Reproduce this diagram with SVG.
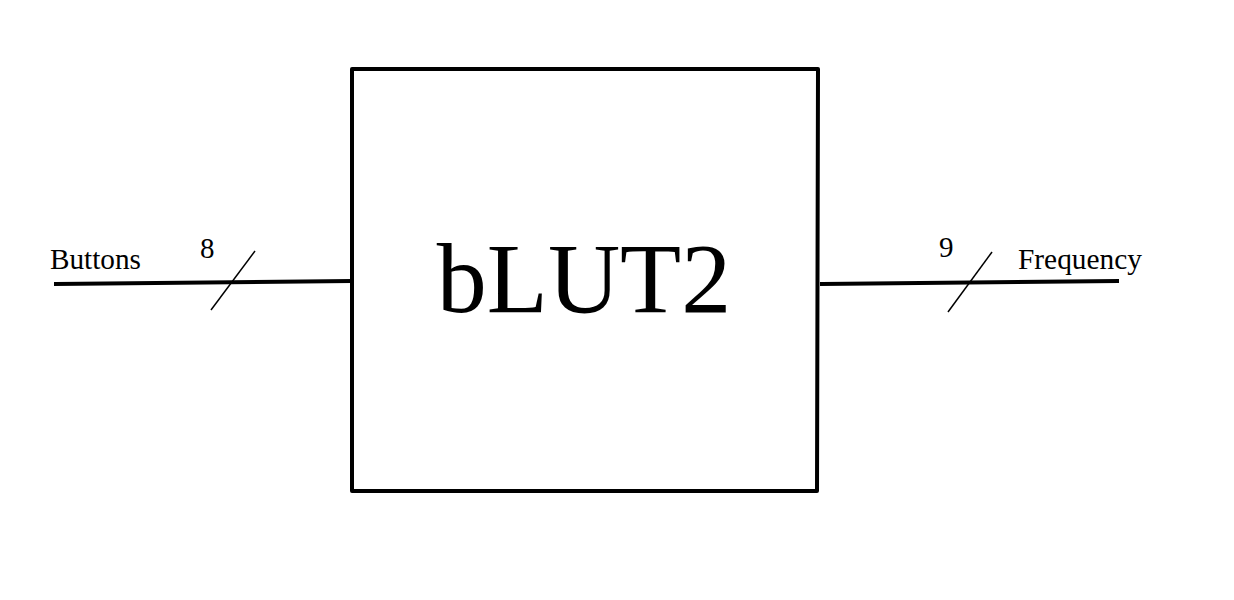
<svg xmlns="http://www.w3.org/2000/svg" width="1234" height="600" viewBox="0 0 1234 600">
<style>
.t{font-family:"Liberation Serif","Times New Roman",serif;fill:#000}
.w{stroke:#000;stroke-width:4;fill:none;stroke-linecap:square}
.s{stroke:#000;stroke-width:1.5;fill:none}
</style>
<rect width="1234" height="600" fill="#fff"/>
<g id="connectors">
<line class="w" x1="56" y1="284" x2="350" y2="281"/>
<line class="s" x1="255" y1="251" x2="211" y2="310"/>
<line class="w" x1="822" y1="284" x2="1117" y2="281"/>
<line class="s" x1="992" y1="252" x2="948" y2="312"/>
</g>
<g id="labels">
<text class="t" x="50" y="269" font-size="29" textLength="91" lengthAdjust="spacingAndGlyphs">Buttons</text>
<text class="t" x="200" y="258" font-size="29">8</text>
<text class="t" x="939" y="257" font-size="29">9</text>
<text class="t" x="1018" y="269" font-size="29" textLength="124" lengthAdjust="spacingAndGlyphs">Frequency</text>
</g>
<g id="bLUT2">
<path class="w" d="M352,69 L818,69 L817,491 L352,491 Z" stroke-linejoin="round"/>
<text class="t" x="584" y="312" font-size="100" text-anchor="middle">bLUT2</text>
</g>
</svg>
